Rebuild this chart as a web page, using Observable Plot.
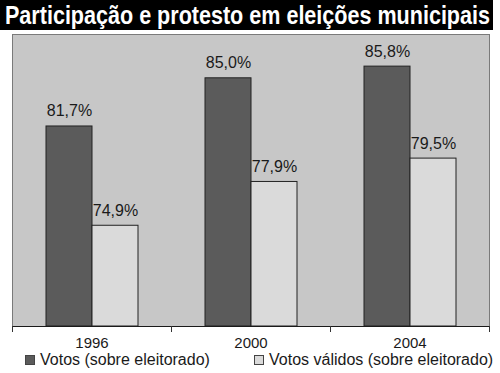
<!DOCTYPE html>
<html>
<head>
<meta charset="utf-8">
<script src="https://cdn.jsdelivr.net/npm/d3@7"></script>
<script src="https://cdn.jsdelivr.net/npm/@observablehq/plot@0.6"></script>
<style>
  html, body { margin: 0; padding: 0; background: #fff; }
  body { width: 500px; height: 373px; position: relative; overflow: hidden; font-family: "Liberation Sans", Arial, sans-serif; }
  #title { position: absolute; left: 0; top: 0; width: 493px; height: 30px; background: #000; overflow: hidden; }
  #title span { position: absolute; left: 5px; top: 1px; color: #fff; font-weight: bold; font-size: 25px; line-height: 28px; white-space: nowrap; transform-origin: 0 50%; }
  #chart { position: absolute; left: 0; top: 30px; }
  .leg { position: absolute; top: 351px; font-size: 16px; line-height: 18px; color: #1a1a1a; white-space: nowrap; }
  .leg i { display: inline-block; width: 8px; height: 8px; border: 1px solid #444; margin-right: 5px; vertical-align: 0px; }
</style>
</head>
<body>
<div id="title"><span>Participação e protesto em eleições municipais</span></div>
<div id="chart"></div>
<div class="leg" id="leg0" style="left:25px"></div>
<div class="leg" id="leg1" style="left:254px"></div>
<script>
const years = ["1996", "2000", "2004"];
const votos = [81.7, 85.0, 85.8];
const validos = [74.9, 77.9, 79.5];
const seriesNames = ["Votos (sobre eleitorado)", "Votos válidos (sobre eleitorado)"];
const seriesColors = ["#5b5b5b", "#dadada"];

const rows = [];
years.forEach((y, i) => {
  rows.push({year: y, serie: seriesNames[0], value: votos[i]});
  rows.push({year: y, serie: seriesNames[1], value: validos[i]});
});
const fmt = v => d3.format(".1f")(v).replace(".", ",") + "%";

const plot = Plot.plot({
  width: 500,
  height: 322,
  marginTop: 4,
  marginBottom: 26,
  marginLeft: 11,
  marginRight: 11,
  style: {fontFamily: "Liberation Sans, Arial, sans-serif", background: "transparent"},
  fx: {domain: years, padding: 0},
  x: {domain: seriesNames, paddingInner: 0, paddingOuter: 0.695, axis: null},
  y: {domain: [68, 88], axis: null},
  color: {domain: seriesNames, range: seriesColors},
  marks: [
    Plot.frame({facet: "super", fill: "#c7c7c7", stroke: "#7a7a7a"}),
    Plot.barY(rows, {fx: "year", x: "serie", y1: 68, y2: "value", fill: "serie", stroke: "#222", strokeWidth: 1}),
    Plot.text(rows, {fx: "year", x: "serie", y: "value", text: d => fmt(d.value), lineAnchor: "bottom", dy: -10, fontSize: 16, fill: "#1a1a1a"}),
    Plot.ruleY([68], {stroke: "#1a1a1a", strokeWidth: 1.2}),
    Plot.frame({anchor: "left", insetTop: 292, insetBottom: -5, stroke: "#333"}),
    Plot.frame({anchor: "right", insetTop: 292, insetBottom: -5, stroke: "#333"}),
    Plot.axisFx({anchor: "bottom", tickSize: 0, tickPadding: 11, label: null, fontSize: 15, fill: "#1a1a1a"})
  ]
});
document.getElementById("chart").appendChild(plot);

// legend
seriesNames.forEach((n, i) => {
  const el = document.getElementById("leg" + i);
  const sw = document.createElement("i");
  sw.style.background = seriesColors[i];
  el.appendChild(sw);
  el.appendChild(document.createTextNode(n));
});

// fit title to the bar
const span = document.querySelector("#title span");
const w = span.getBoundingClientRect().width;
span.style.transform = `scaleX(${485 / w})`;
</script>
</body>
</html>
